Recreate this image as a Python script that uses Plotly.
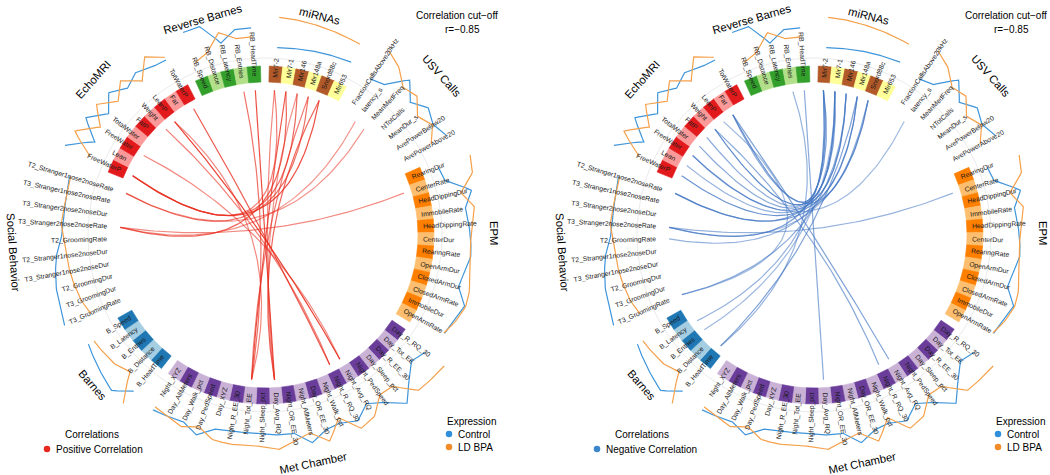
import math
import plotly.graph_objects as go

# ---------------- data ----------------
sector_names = ["miRNAs", "USV Calls", "EPM", "Met Chamber", "Barnes",
                "Social Behavior", "EchoMRI", "Reverse Barnes"]

mirna_items = ["Mir7-2", "Mir7-1", "Mir146", "Mir148a", "Snord88c", "Mir653"]
usv_items = ["FractionCallsAbove20kHz", "latency_s", "MeanMedFreq", "NTotCalls",
             "MeanDur_s", "AvePowerBelow20", "AvePowerAbove20"]
epm_items = ["RearingDur", "CenterRate", "HeadDippingDur", "ImmobileRate",
             "HeadDippingRate", "CenterDur", "RearingRate", "OpenArmDur",
             "ClosedArmDur", "ClosedArmRate", "ImmobileDur", "OpenArmRate"]
met_items = ["Day_R_RQ_30", "Day_Tot_EE", "Day_R_EE_30", "Day_Sleep_pct",
             "Night_PedSpeed", "Night_Avg_RQ", "Night_R_RQ_30", "Night_Walk_pct",
             "Day_OR_EE_30", "Night_AllMeters", "Night_OR_EE_30", "Day_Avg_RQ",
             "Night_Sleep_pct", "Night_Tot_EE", "Night_R_EE_30", "Day_XYZ",
             "Day_PedSpeed", "Day_Walk_pct", "Day_AllMeters", "Night_XYZ"]
barnes_items = ["B_HeadTime", "B_Distance", "B_Entries", "B_Latency", "B_Speed"]
social_items = ["T3_GroomingRate", "T3_GroomingDur", "T2_GroomingDur",
                "T3_Stranger1nose2noseDur", "T2_Stranger1nose2noseDur",
                "T2_GroomingRate", "T3_Stranger2nose2noseRate",
                "T3_Stranger2nose2noseDur", "T3_Stranger1nose2noseRate",
                "T2_Stranger1nose2noseRate"]
echo_items = ["FreeWaterP", "Lean", "FreeWater", "TotalWater", "FatP",
              "Weight", "LeanP", "Fat", "TotWaterP"]
rb_items = ["RB_Speed", "RB_Distance", "RB_Latency", "RB_Entries", "RB_HeadTime"]

# scaled expression (0 = low, 1 = high) per feature
mirna_control = [0.05, 0.07, 0.10, 0.13, 0.16, 0.20]
mirna_bpa = [0.89, 0.87, 0.84, 0.81, 0.78, 0.75]
usv_control = [0.06, 0.17, 0.72, 0.30, 0.58, 0.42, 0.58]
usv_bpa = [1.00, 0.80, 0.45, 0.55, 0.20, 0.40, 0.10]
epm_control = [0.00, 0.06, 0.70, 0.45, 0.50, 0.55, 0.58, 0.45, 0.40, 0.72, 0.58, 0.52]
epm_bpa = [0.95, 0.85, 0.40, 0.70, 0.60, 0.55, 0.55, 0.60, 0.72, 0.75, 0.65, 0.50]
met_control = [0.35, 0.20, 0.50, 0.95, 0.55, 0.30, 0.60, 0.45, 0.50, 0.75,
               0.40, 0.40, 0.35, 0.35, 0.35, 0.40, 0.70, 0.50, 0.55, 0.60]
met_bpa = [1.00, 0.95, 0.90, 0.33, 0.30, 0.72, 0.83, 0.30, 0.83, 0.47,
           0.60, 0.80, 0.70, 0.70, 0.72, 0.70, 0.47, 0.64, 0.55, 0.50]
barnes_control = [0.50, 0.90, 0.80, 0.70, 0.60]
barnes_bpa = [0.95, 0.17, 0.33, 0.38, 0.42]
social_control = [0.94, 0.85, 0.83, 0.75, 0.67, 0.50, 0.44, 0.45, 0.45, 0.50]
social_bpa = [0.14, 0.25, 0.30, 0.35, 0.36, 0.40, 0.50, 0.47, 0.44, 0.47]
echo_control = [0.92, 0.22, 0.78, 0.33, 0.70, 0.42, 0.60, 0.45, 0.42]
echo_bpa = [0.15, 0.85, 0.30, 0.75, 0.35, 0.70, 0.30, 0.80, 0.50]
rb_control = [0.90, 0.90, 0.30, 0.60, 0.60]
rb_bpa = [0.00, 0.15, 0.60, 0.35, 0.35]

pos_links = [
    ("TotWaterP", "Night_R_RQ_30", 0.91),
    ("LeanP", "Night_Avg_RQ", 0.93),
    ("Weight", "Night_R_RQ_30", 0.88),
    ("FreeWater", "Night_Avg_RQ", 0.87),
    ("FreeWaterP", "Mir146", 0.90),
    ("FreeWaterP", "Mir7-2", 0.88),
    ("T2_Stranger1nose2noseRate", "Mir148a", 0.89),
    ("T2_Stranger1nose2noseRate", "MeanMedFreq", 0.86),
    ("T3_Stranger2nose2noseRate", "CenterRate", 0.87),
    ("T3_Stranger2nose2noseRate", "Mir7-1", 0.90),
    ("T3_Stranger2nose2noseRate", "latency_s", 0.86),
    ("Snord88c", "FreeWaterP", 0.92),
    ("RB_Entries", "Night_Tot_EE", 0.89),
    ("RB_HeadTime", "Day_Avg_RQ", 0.92),
    ("Mir7-2", "Day_Avg_RQ", 0.87),
    ("Mir7-1", "Night_Tot_EE", 0.91),
    ("Mir146", "Day_Avg_RQ", 0.86),
    ("Mir148a", "Night_Tot_EE", 0.88),
    ("Snord88c", "Day_Avg_RQ", 0.90),
    ("LeanP", "Night_Tot_EE", 0.87),
]

neg_links = [
    ("Mir7-2", "Fat", -0.91),
    ("Mir7-2", "FatP", -0.88),
    ("Mir7-2", "B_Latency", -0.87),
    ("Mir7-2", "T3_Stranger2nose2noseRate", -0.90),
    ("Mir7-1", "Weight", -0.92),
    ("Mir7-1", "TotalWater", -0.88),
    ("Mir7-1", "B_Entries", -0.86),
    ("Mir7-1", "T2_Stranger1nose2noseRate", -0.89),
    ("Mir146", "FreeWater", -0.90),
    ("Mir146", "Lean", -0.87),
    ("Mir146", "T3_GroomingRate", -0.88),
    ("Mir148a", "FreeWaterP", -0.91),
    ("Mir148a", "T2_GroomingRate", -0.87),
    ("Mir148a", "B_HeadTime", -0.89),
    ("Snord88c", "T3_Stranger2nose2noseRate", -0.86),
    ("Snord88c", "Fat", -0.88),
    ("Snord88c", "T2_Stranger1nose2noseRate", -0.90),
    ("RB_HeadTime", "Day_Avg_RQ", -0.88),
    ("RB_Entries", "B_HeadTime", -0.87),
    ("latency_s", "FreeWater", -0.86),
    ("CenterRate", "T3_Stranger2nose2noseRate", -0.87),
    ("Fat", "Night_Avg_RQ", -0.89),
    ("Weight", "Night_R_RQ_30", -0.88),
    ("LeanP", "T3_GroomingRate", -0.86),
]

cutoff_text = "Correlation cut\u2212off"
cutoff_value = "r=\u22120.85"

# ---------------- structure / style ----------------
items_by_sector = {
    "miRNAs": mirna_items, "USV Calls": usv_items, "EPM": epm_items,
    "Met Chamber": met_items, "Barnes": barnes_items,
    "Social Behavior": social_items, "EchoMRI": echo_items,
    "Reverse Barnes": rb_items,
}
expr_by_sector = {
    "miRNAs": (mirna_control, mirna_bpa), "USV Calls": (usv_control, usv_bpa),
    "EPM": (epm_control, epm_bpa), "Met Chamber": (met_control, met_bpa),
    "Barnes": (barnes_control, barnes_bpa),
    "Social Behavior": (social_control, social_bpa),
    "EchoMRI": (echo_control, echo_bpa), "Reverse Barnes": (rb_control, rb_bpa),
}
palette = {
    "miRNAs": ("#B15928", "#FFFF99"), "USV Calls": None,
    "EPM": ("#FF7F00", "#FDBF6F"), "Met Chamber": ("#6A3D9A", "#CAB2D6"),
    "Barnes": ("#1F78B4", "#A6CEE3"), "Social Behavior": None,
    "EchoMRI": ("#E31A1C", "#FB9A99"), "Reverse Barnes": ("#33A02C", "#B2DF8A"),
}
title_pos = {  # (angle deg, radius px)
    "Reverse Barnes": (106, 225), "miRNAs": (76, 226), "USV Calls": (42, 238),
    "EPM": (0.5, 229), "Met Chamber": (-78, 233), "Barnes": (-139, 228),
    "Social Behavior": (-176, 252), "EchoMRI": (138, 232),
}

W, H = 1050, 475
CENTERS = [(265, 235), (814, 235)]
ITEM, GAP = 4.55, 2.9
START = 90 - GAP / 2
R_IN, R_OUT = 153, 169
R_LABEL = 158
R_LINK = 145
R_LO, R_HI = 186, 222
R_GRID = 177
FONT = "Liberation Sans, Arial, Helvetica, sans-serif"
LABEL_SIZE = 6.8
CONTROL_COL = "#3E95DA"
BPA_COL = "#F5A04A"

angles = {}
pos = START
for s in sector_names:
    for it in items_by_sector[s]:
        angles[it] = pos - ITEM / 2
        pos -= ITEM
    pos -= GAP

_w = {}
for ch, v in zip("abcdefghijklmnopqrstuvwxyz",
                 [556, 556, 500, 556, 556, 278, 556, 556, 222, 222, 500, 222, 833,
                  556, 556, 556, 556, 333, 500, 278, 556, 500, 722, 500, 500, 500]):
    _w[ch] = v
for ch, v in zip("ABCDEFGHIJKLMNOPQRSTUVWXYZ",
                 [667, 667, 722, 722, 667, 611, 778, 722, 278, 500, 667, 556, 833,
                  722, 778, 667, 778, 722, 667, 611, 722, 667, 944, 667, 667, 611]):
    _w[ch] = v


def text_width(s, size):
    tot = 0
    for ch in s:
        if ch.isdigit():
            tot += 556
        else:
            tot += _w.get(ch, {"_": 556, "-": 333, " ": 278, ".": 278}.get(ch, 556))
    return tot * size / 1000.0


def pt(c, r, deg):
    a = math.radians(deg)
    return c[0] + r * math.cos(a), c[1] - r * math.sin(a)


fig = go.Figure()
annotations = []

for ci, c in enumerate(CENTERS):
    # faint grid circle
    gx, gy = [], []
    for k in range(361):
        x, y = pt(c, R_GRID, k)
        gx.append(x); gy.append(y)
    fig.add_trace(go.Scatter(x=gx, y=gy, mode="lines",
                             line=dict(color="#EBEBEB", width=1), hoverinfo="skip"))

    # blocks
    for s in sector_names:
        if palette[s] is None:
            continue
        for i, it in enumerate(items_by_sector[s]):
            col = palette[s][i % 2]
            a = angles[it]
            th = [a - ITEM / 2 + ITEM * k / 8 for k in range(9)]
            xs, ys = [], []
            for t in th:
                x, y = pt(c, R_OUT, t); xs.append(x); ys.append(y)
            for t in reversed(th):
                x, y = pt(c, R_IN, t); xs.append(x); ys.append(y)
            xs.append(xs[0]); ys.append(ys[0])
            fig.add_trace(go.Scatter(x=xs, y=ys, mode="lines", fill="toself",
                                     fillcolor=col, line=dict(color=col, width=0.6),
                                     hoverinfo="skip"))

    # expression lines
    for s in sector_names:
        its = items_by_sector[s]
        for vals, col in zip(expr_by_sector[s], (CONTROL_COL, BPA_COL)):
            xs, ys = [], []
            for i in range(len(its)):
                a0 = angles[its[i]]
                r0 = R_LO + vals[i] * (R_HI - R_LO)
                if i == len(its) - 1:
                    x, y = pt(c, r0, a0); xs.append(x); ys.append(y)
                    break
                a1 = angles[its[i + 1]]
                r1 = R_LO + vals[i + 1] * (R_HI - R_LO)
                for k in range(8):
                    t = k / 8
                    x, y = pt(c, r0 + (r1 - r0) * t, a0 + (a1 - a0) * t)
                    xs.append(x); ys.append(y)
            fig.add_trace(go.Scatter(x=xs, y=ys, mode="lines",
                                     line=dict(color=col, width=1.2), hoverinfo="skip"))

    # links
    links = pos_links if ci == 0 else neg_links
    for a_it, b_it, rv in links:
        ta, tb = angles[a_it], angles[b_it]
        p0 = (R_LINK * math.cos(math.radians(ta)), R_LINK * math.sin(math.radians(ta)))
        p1 = (R_LINK * math.cos(math.radians(tb)), R_LINK * math.sin(math.radians(tb)))
        m = ((p0[0] + p1[0]) / 2, (p0[1] + p1[1]) / 2)
        cc = (-0.5 * m[0], -0.5 * m[1])
        xs, ys = [], []
        for k in range(61):
            t = k / 60
            bx = (1 - t) ** 2 * p0[0] + 2 * (1 - t) * t * cc[0] + t ** 2 * p1[0]
            by = (1 - t) ** 2 * p0[1] + 2 * (1 - t) * t * cc[1] + t ** 2 * p1[1]
            xs.append(c[0] + bx); ys.append(c[1] - by)
        alpha = 0.45 + (abs(rv) - 0.85) / 0.08 * 0.45
        alpha = max(0.35, min(0.95, alpha))
        col = (f"rgba(232,45,30,{alpha:.2f})" if rv > 0
               else f"rgba(66,118,196,{alpha:.2f})")
        fig.add_trace(go.Scatter(x=xs, y=ys, mode="lines",
                                 line=dict(color=col, width=1.2), hoverinfo="skip"))

    # feature labels
    for s in sector_names:
        for it in items_by_sector[s]:
            a = angles[it]
            w = text_width(it, LABEL_SIZE)
            x, y = pt(c, R_LABEL + w / 2, a)
            an = ((a + 180) % 360) - 180
            if -90 <= an <= 90:
                ta = -an
            else:
                ta = -(an + 180)
            ta = ((ta + 180) % 360) - 180
            annotations.append(dict(x=x, y=y, xref="x", yref="y", text=it,
                                    showarrow=False, textangle=ta,
                                    xanchor="center", yanchor="middle",
                                    font=dict(family=FONT, size=LABEL_SIZE, color="#1A1A1A")))

    # sector titles
    for s in sector_names:
        a, r = title_pos[s]
        x, y = pt(c, r, a)
        ta = 90 - a if a > 0 else -(a + 90)
        annotations.append(dict(x=x, y=y, xref="x", yref="y", text=s,
                                showarrow=False, textangle=ta,
                                xanchor="center", yanchor="middle",
                                font=dict(family=FONT, size=11.3, color="#000000")))

    # cut-off text
    ox = c[0] - 265
    annotations.append(dict(x=457 + ox, y=15, xref="x", yref="y", text=cutoff_text,
                            showarrow=False, xanchor="center", yanchor="middle",
                            font=dict(family=FONT, size=10, color="#000000")))
    annotations.append(dict(x=462 + ox, y=29, xref="x", yref="y", text=cutoff_value,
                            showarrow=False, xanchor="center", yanchor="middle",
                            font=dict(family=FONT, size=10, color="#000000")))

    # correlation legend
    annotations.append(dict(x=92 + ox + (1 if ci else 0), y=434, xref="x", yref="y",
                            text="Correlations", showarrow=False,
                            xanchor="center", yanchor="middle",
                            font=dict(family=FONT, size=10, color="#000000")))
    fig.add_trace(go.Scatter(x=[47 + ox + (1 if ci else 0)], y=[449], mode="markers",
                             marker=dict(size=6.5, color="#E8281E" if ci == 0 else "#3C86CC"),
                             hoverinfo="skip"))
    annotations.append(dict(x=54 + ox + (1 if ci else 0), y=449, xref="x", yref="y",
                            text="Positive Correlation" if ci == 0 else "Negative Correlation",
                            showarrow=False, xanchor="left", yanchor="middle",
                            font=dict(family=FONT, size=10, color="#000000")))

    # expression legend
    annotations.append(dict(x=445 + ox, y=421, xref="x", yref="y", text="Expression",
                            showarrow=False, xanchor="left", yanchor="middle",
                            font=dict(family=FONT, size=10, color="#000000")))
    fig.add_trace(go.Scatter(x=[449 + ox, 449 + ox], y=[434, 447], mode="markers",
                             marker=dict(size=6.5, color=["#2F8FDB", "#F28C28"]),
                             hoverinfo="skip"))
    annotations.append(dict(x=456 + ox, y=434, xref="x", yref="y", text="Control",
                            showarrow=False, xanchor="left", yanchor="middle",
                            font=dict(family=FONT, size=10, color="#000000")))
    annotations.append(dict(x=456 + ox, y=447, xref="x", yref="y", text="LD BPA",
                            showarrow=False, xanchor="left", yanchor="middle",
                            font=dict(family=FONT, size=10, color="#000000")))

fig.update_layout(
    width=W, height=H, margin=dict(l=0, r=0, t=0, b=0),
    paper_bgcolor="white", plot_bgcolor="white", showlegend=False,
    xaxis=dict(range=[0, W], visible=False, fixedrange=True),
    yaxis=dict(range=[H, 0], visible=False, fixedrange=True),
    annotations=annotations,
)
# drop the default page margin so the figure sits at the window's top-left corner
fig.write_html("out.html",
               config=dict(displayModeBar=False),
               post_script="document.body.style.margin='0';"
                           "document.body.style.overflow='hidden';")
